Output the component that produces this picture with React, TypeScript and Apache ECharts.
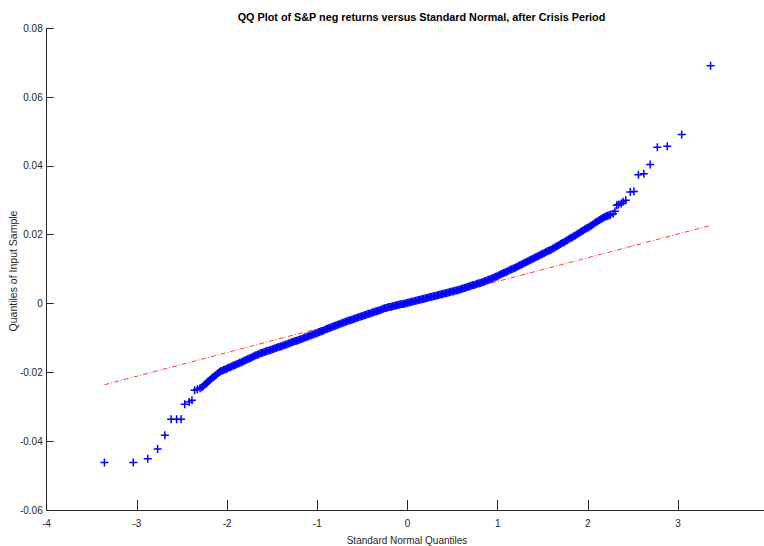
import React, { useEffect, useRef } from "react";
import * as echarts from "echarts";

const titleText = "QQ Plot of S&P neg returns versus Standard Normal, after Crisis Period";
const xAxisTitle = "Standard Normal Quantiles";
const yAxisTitle = "Quantiles of Input Sample";

const xTicks = { min: -4, max: 4, interval: 1 };
const yTicks = { min: -0.06, max: 0.08, interval: 0.02 };

// lower tail (individual points)
const lowerTail: number[][] = [
  [-3.36, -0.0462], [-3.04, -0.0462], [-2.88, -0.0451], [-2.77, -0.0423], [-2.69, -0.0383],
  [-2.62, -0.0336], [-2.56, -0.0336], [-2.51, -0.0336], [-2.47, -0.0293], [-2.42, -0.0286],
  [-2.39, -0.0281], [-2.36, -0.0252], [-2.33, -0.0249], [-2.30, -0.0246],
];

// dense central band
const band: number[][] = [
  [-2.28, -0.0243], [-2.25, -0.0236], [-2.22, -0.0229], [-2.19, -0.0222], [-2.16, -0.0215], [-2.13, -0.0209],
  [-2.10, -0.0202], [-2.07, -0.0196], [-2.04, -0.0193], [-2.01, -0.0190], [-1.98, -0.0186], [-1.95, -0.0183],
  [-1.92, -0.0179], [-1.89, -0.0176], [-1.86, -0.0172], [-1.83, -0.0169], [-1.80, -0.0165], [-1.77, -0.0161],
  [-1.74, -0.0158], [-1.71, -0.0154], [-1.68, -0.0150], [-1.65, -0.0147], [-1.62, -0.0144], [-1.59, -0.0141],
  [-1.56, -0.0138], [-1.53, -0.0136], [-1.50, -0.0133], [-1.47, -0.0130], [-1.44, -0.0127], [-1.41, -0.0125],
  [-1.38, -0.0122], [-1.35, -0.0119], [-1.32, -0.0116], [-1.29, -0.0113], [-1.26, -0.0110], [-1.23, -0.0108],
  [-1.20, -0.0105], [-1.17, -0.0102], [-1.14, -0.0099], [-1.11, -0.0096], [-1.08, -0.0093], [-1.05, -0.0090],
  [-1.02, -0.0087], [-0.99, -0.0084], [-0.96, -0.0081], [-0.93, -0.0078], [-0.90, -0.0074], [-0.87, -0.0071],
  [-0.84, -0.0068], [-0.81, -0.0065], [-0.78, -0.0062], [-0.75, -0.0059], [-0.72, -0.0056], [-0.69, -0.0053],
  [-0.66, -0.0050], [-0.63, -0.0048], [-0.60, -0.0045], [-0.57, -0.0042], [-0.54, -0.0039], [-0.51, -0.0037],
  [-0.48, -0.0034], [-0.45, -0.0031], [-0.42, -0.0029], [-0.39, -0.0026], [-0.36, -0.0023], [-0.33, -0.0021],
  [-0.30, -0.0018], [-0.27, -0.0015], [-0.24, -0.0013], [-0.21, -0.0010], [-0.18, -0.0009], [-0.15, -0.0007],
  [-0.12, -0.0005], [-0.09, -0.0003], [-0.06, -0.0001], [-0.03, 0.0000], [0.00, 0.0002], [0.03, 0.0004],
  [0.06, 0.0006], [0.09, 0.0008], [0.12, 0.0010], [0.15, 0.0012], [0.18, 0.0014], [0.21, 0.0016],
  [0.24, 0.0018], [0.27, 0.0020], [0.30, 0.0022], [0.33, 0.0024], [0.36, 0.0026], [0.39, 0.0028],
  [0.42, 0.0030], [0.45, 0.0032], [0.48, 0.0034], [0.51, 0.0036], [0.54, 0.0038], [0.57, 0.0040],
  [0.60, 0.0043], [0.63, 0.0045], [0.66, 0.0048], [0.69, 0.0050], [0.72, 0.0053], [0.75, 0.0055],
  [0.78, 0.0058], [0.81, 0.0060], [0.84, 0.0063], [0.87, 0.0066], [0.90, 0.0069], [0.93, 0.0072],
  [0.96, 0.0076], [0.99, 0.0079], [1.02, 0.0083], [1.05, 0.0087], [1.08, 0.0090], [1.11, 0.0094],
  [1.14, 0.0098], [1.17, 0.0101], [1.20, 0.0105], [1.23, 0.0109], [1.26, 0.0113], [1.29, 0.0117],
  [1.32, 0.0121], [1.35, 0.0125], [1.38, 0.0129], [1.41, 0.0133], [1.44, 0.0137], [1.47, 0.0141],
  [1.50, 0.0145], [1.53, 0.0149], [1.56, 0.0153], [1.59, 0.0156], [1.62, 0.0161], [1.65, 0.0166],
  [1.68, 0.0170], [1.71, 0.0175], [1.74, 0.0179], [1.77, 0.0184], [1.80, 0.0189], [1.83, 0.0193],
  [1.86, 0.0198], [1.89, 0.0203], [1.92, 0.0208], [1.95, 0.0213], [1.98, 0.0218], [2.01, 0.0222],
  [2.04, 0.0227], [2.07, 0.0233], [2.10, 0.0238], [2.13, 0.0243], [2.16, 0.0248], [2.19, 0.0252],
  [2.22, 0.0255], [2.25, 0.0258], [2.28, 0.0261],
];

// further points in the dense band (between the ones above)
const bandFill: number[][] = [
  [-2.265, -0.0240], [-2.235, -0.0233], [-2.205, -0.0226], [-2.175, -0.0218], [-2.145, -0.0212], [-2.115, -0.0206],
  [-2.085, -0.0199], [-2.055, -0.0195], [-2.025, -0.0192], [-1.995, -0.0188], [-1.965, -0.0185], [-1.935, -0.0181],
  [-1.905, -0.0178], [-1.875, -0.0174], [-1.845, -0.0171], [-1.815, -0.0167], [-1.785, -0.0163], [-1.755, -0.0160],
  [-1.725, -0.0156], [-1.695, -0.0152], [-1.665, -0.0149], [-1.635, -0.0145], [-1.605, -0.0143], [-1.575, -0.0140],
  [-1.545, -0.0137], [-1.515, -0.0135], [-1.485, -0.0132], [-1.455, -0.0129], [-1.425, -0.0126], [-1.395, -0.0124],
  [-1.365, -0.0121], [-1.335, -0.0118], [-1.305, -0.0115], [-1.275, -0.0112], [-1.245, -0.0109], [-1.215, -0.0107],
  [-1.185, -0.0104], [-1.155, -0.0101], [-1.125, -0.0098], [-1.095, -0.0095], [-1.065, -0.0092], [-1.035, -0.0089],
  [-1.005, -0.0086], [-0.975, -0.0083], [-0.945, -0.0080], [-0.915, -0.0076], [-0.885, -0.0073], [-0.855, -0.0070],
  [-0.825, -0.0067], [-0.795, -0.0064], [-0.765, -0.0061], [-0.735, -0.0058], [-0.705, -0.0055], [-0.675, -0.0052],
  [-0.645, -0.0049], [-0.615, -0.0047], [-0.585, -0.0044], [-0.555, -0.0041], [-0.525, -0.0038], [-0.495, -0.0036],
  [-0.465, -0.0033], [-0.435, -0.0030], [-0.405, -0.0028], [-0.375, -0.0025], [-0.345, -0.0022], [-0.315, -0.0020],
  [-0.285, -0.0017], [-0.255, -0.0014], [-0.225, -0.0012], [-0.195, -0.0010], [-0.165, -0.0008], [-0.135, -0.0006],
  [-0.105, -0.0004], [-0.075, -0.0002], [-0.045, -0.0001], [-0.015, 0.0001], [0.015, 0.0003], [0.045, 0.0005],
  [0.075, 0.0007], [0.105, 0.0009], [0.135, 0.0011], [0.165, 0.0013], [0.195, 0.0015], [0.225, 0.0017],
  [0.255, 0.0019], [0.285, 0.0021], [0.315, 0.0023], [0.345, 0.0025], [0.375, 0.0027], [0.405, 0.0029],
  [0.435, 0.0031], [0.465, 0.0033], [0.495, 0.0035], [0.525, 0.0037], [0.555, 0.0039], [0.585, 0.0041],
  [0.615, 0.0044], [0.645, 0.0046], [0.675, 0.0049], [0.705, 0.0052], [0.735, 0.0054], [0.765, 0.0057],
  [0.795, 0.0059], [0.825, 0.0062], [0.855, 0.0065], [0.885, 0.0068], [0.915, 0.0071], [0.945, 0.0074],
  [0.975, 0.0078], [1.005, 0.0081], [1.035, 0.0085], [1.065, 0.0089], [1.095, 0.0092], [1.125, 0.0096],
  [1.155, 0.0100], [1.185, 0.0103], [1.215, 0.0107], [1.245, 0.0111], [1.275, 0.0115], [1.305, 0.0119],
  [1.335, 0.0123], [1.365, 0.0127], [1.395, 0.0131], [1.425, 0.0135], [1.455, 0.0139], [1.485, 0.0143],
  [1.515, 0.0147], [1.545, 0.0151], [1.575, 0.0155], [1.605, 0.0159], [1.635, 0.0164], [1.665, 0.0168],
  [1.695, 0.0173], [1.725, 0.0177], [1.755, 0.0182], [1.785, 0.0187], [1.815, 0.0191], [1.845, 0.0196],
  [1.875, 0.0201], [1.905, 0.0206], [1.935, 0.0211], [1.965, 0.0216], [1.995, 0.0220], [2.025, 0.0225],
  [2.055, 0.0230], [2.085, 0.0236], [2.115, 0.0241], [2.145, 0.0246], [2.175, 0.0250], [2.205, 0.0254],
  [2.235, 0.0257],
];

// upper tail (individual points)
const upperTail: number[][] = [
  [2.30, 0.0268], [2.32, 0.0286], [2.34, 0.0288], [2.37, 0.0291], [2.39, 0.0296], [2.42, 0.0300],
  [2.47, 0.0324], [2.51, 0.0326], [2.56, 0.0374], [2.62, 0.0377], [2.69, 0.0404], [2.77, 0.0454],
  [2.88, 0.0457], [3.04, 0.0491], [3.36, 0.0691],
];

// fitted reference line end points
const refLine: number[][] = [
  [-3.36, -0.0236],
  [3.36, 0.0227],
];

const axisColor = "#262626";
const font = "'Liberation Sans', Arial, Helvetica, sans-serif";

export default function App() {
  const ref = useRef<HTMLDivElement>(null);
  useEffect(() => {
    if (!ref.current) return;
    const chart = echarts.init(ref.current, null, { renderer: "svg" });
    const points = [...lowerTail, ...band, ...bandFill, ...upperTail];
    chart.setOption({
      animation: false,
      backgroundColor: "#ffffff",
      grid: {
        left: 46.7,
        top: 28.3,
        right: -4.3,
        height: 481.7,
        containLabel: false,
        outerBoundsMode: "none",
      },
      xAxis: {
        type: "value",
        min: xTicks.min,
        max: xTicks.max,
        interval: xTicks.interval,
        splitLine: { show: false },
        axisLine: { onZero: false, lineStyle: { color: axisColor, width: 1 } },
        axisTick: { inside: true, length: 10, lineStyle: { color: axisColor, width: 1 } },
        axisLabel: {
          color: axisColor,
          fontSize: 10,
          fontFamily: font,
          margin: 8,
          showMaxLabel: false,
        },
      },
      yAxis: {
        type: "value",
        min: yTicks.min,
        max: yTicks.max,
        interval: yTicks.interval,
        splitLine: { show: false },
        axisLine: { onZero: false, lineStyle: { color: axisColor, width: 1 } },
        axisTick: { inside: true, length: 7, lineStyle: { color: axisColor, width: 1 } },
        axisLabel: {
          color: axisColor,
          fontSize: 10,
          fontFamily: font,
          margin: 4,
          formatter: (v: number) => (Math.abs(v) < 1e-9 ? "0" : v.toFixed(2)),
        },
      },
      graphic: [
        {
          type: "text",
          x: 421.5,
          y: 17,
          style: {
            text: titleText,
            fontSize: 10.8,
            fontWeight: "bold",
            fontFamily: font,
            fill: "#000000",
            textAlign: "center",
            textVerticalAlign: "middle",
          },
        },
        {
          type: "text",
          x: 407,
          y: 540,
          style: {
            text: xAxisTitle,
            fontSize: 10,
            fontFamily: font,
            fill: axisColor,
            textAlign: "center",
            textVerticalAlign: "middle",
          },
        },
        {
          type: "text",
          x: 13,
          y: 271,
          rotation: Math.PI / 2,
          style: {
            text: yAxisTitle,
            fontSize: 10.5,
            fontFamily: font,
            fill: axisColor,
            textAlign: "center",
            textVerticalAlign: "middle",
          },
        },
      ],
      series: [
        {
          type: "line",
          data: refLine,
          symbol: "none",
          silent: true,
          z: 1,
          lineStyle: { color: "#ff0000", width: 0.9, type: [5, 2, 1, 2], opacity: 0.85 },
        },
        {
          type: "scatter",
          data: points,
          symbol: "path://M5,0L5,10M0,5L10,5",
          symbolSize: 8,
          silent: true,
          z: 2,
          itemStyle: { color: "rgba(0,0,0,0)", borderColor: "#0000ff", borderWidth: 1.5, opacity: 1 },
        },
      ],
    });
    return () => chart.dispose();
  }, []);
  return (
    <div
      ref={ref}
      style={{ position: "fixed", left: 0, top: 0, width: 764, height: 546, background: "#fff" }}
    />
  );
}
